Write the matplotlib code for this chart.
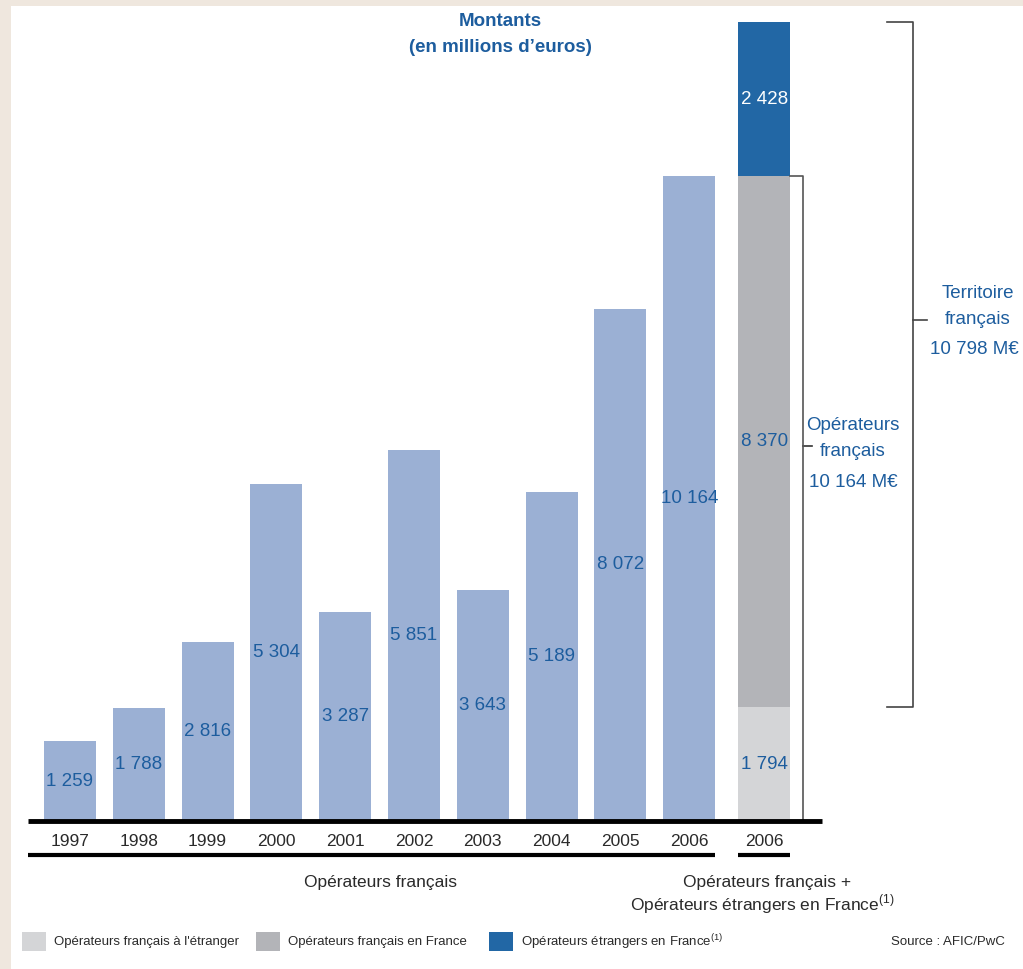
import matplotlib
matplotlib.use("Agg")
import matplotlib.pyplot as plt
from matplotlib.patches import Rectangle
import matplotlib.transforms as mtransforms
import numpy as np

# ---------------- data ----------------
years = ["1997", "1998", "1999", "2000", "2001", "2002", "2003", "2004", "2005", "2006"]
montants = [1259, 1788, 2816, 5304, 3287, 5851, 3643, 5189, 8072, 10164]
stack_year = "2006"
stack_labels = ["Opérateurs français à l'étranger", "Opérateurs français en France",
                "Opérateurs étrangers en France"]
stack_values = [1794, 8370, 2428]

# ---------------- style ----------------
FONT = ["Liberation Sans Narrow", "Liberation Sans", "DejaVu Sans"]
plt.rcParams["font.family"] = FONT
BLUE_TXT = "#1d5d9e"
BAR_BLUE = "#9bb0d4"
STACK_COLORS = ["#d4d5d7", "#b3b4b8", "#2267a5"]
STACK_TXT = [BLUE_TXT, BLUE_TXT, "white"]
DARK = "#2a2a2a"

W, H = 1023, 969
fig = plt.figure(figsize=(W / 100, H / 100), dpi=100)
fig.patch.set_facecolor("#efe7de")
fig.patches.append(Rectangle((11 / W, 0), 1 - 11 / W, 1 - 6 / H, transform=fig.transFigure,
                             facecolor="white", edgecolor="none", zorder=-5))

# axes: baseline at y=821 px, top at y=22 px ; x from 28 px to 822 px
ax_left, ax_right = 28, 822
ax_bottom, ax_top = 821, 22
ax = fig.add_axes([ax_left / W, 1 - ax_bottom / H, (ax_right - ax_left) / W, (ax_bottom - ax_top) / H])
ax.set_zorder(2)
ax.set_facecolor("none")
step = 68.8
x0 = 70
ax.set_xlim((ax_left - x0) / step, (ax_right - x0) / step)
total = sum(stack_values)
ax.set_ylim(0, total)
for s in ax.spines.values():
    s.set_visible(False)
ax.set_xticks([])
ax.set_yticks([])

xs = np.arange(len(years))
xstack = len(years) + 0.09
bw = 0.756

def fmt(v):
    return f"{v:,}".replace(",", " ")

ax.bar(xs, montants, width=bw, color=BAR_BLUE, edgecolor="none", zorder=2)
for x, v in zip(xs, montants):
    ax.text(x, v / 2, fmt(v), ha="center", va="center", color=BLUE_TXT, fontsize=13.5, zorder=3)

bottom = 0
for v, c, tc in zip(stack_values, STACK_COLORS, STACK_TXT):
    ax.bar(xstack, v, bottom=bottom, width=bw, color=c, edgecolor="none", zorder=2)
    ax.text(xstack, bottom + v / 2, fmt(v), ha="center", va="center", color=tc, fontsize=13.5, zorder=3)
    bottom += v

# baseline
ax.plot([(ax_left - x0) / step, (ax_right - x0) / step], [0, 0], color="black", lw=3.5,
        clip_on=False, zorder=4, solid_capstyle="butt")

trans = mtransforms.blended_transform_factory(ax.transData, fig.transFigure)
def fy(px):
    return 1 - px / H

for x, y in zip(xs, years):
    ax.text(x, fy(841), y, transform=trans, ha="center", va="center", fontsize=12.5, color=DARK)
ax.text(xstack, fy(841), stack_year, transform=trans, ha="center", va="center", fontsize=12.5, color=DARK)
ax.plot([(ax_left - x0) / step, xs[-1] + bw / 2], [fy(855), fy(855)], transform=trans,
        color="black", lw=3, clip_on=False, solid_capstyle="butt")
ax.plot([xstack - bw / 2, xstack + bw / 2], [fy(855), fy(855)], transform=trans,
        color="black", lw=3, clip_on=False, solid_capstyle="butt")

# group labels
fig.text(380 / W, fy(882), "Opérateurs français", ha="center", va="center", fontsize=12.5, color=DARK)
fig.text(767 / W, fy(882), "Opérateurs français +", ha="center", va="center", fontsize=12.5, color=DARK)
fig.text(762 / W, fy(904), "Opérateurs étrangers en France$^{\\mathregular{(1)}}$", ha="center", va="center",
         fontsize=12.5, color=DARK)

# title
fig.text(500 / W, fy(22), "Montants", ha="center", va="center", fontsize=13.5, color=BLUE_TXT, fontweight="bold")
fig.text(500 / W, fy(47), "(en millions d’euros)", ha="center", va="center", fontsize=13.5, color=BLUE_TXT,
         fontweight="bold")

# brackets
def px2x(px):
    return (px - x0) / step
fr_total = stack_values[0] + stack_values[1]
ax.plot([xstack + bw / 2, px2x(803), px2x(803)], [fr_total, fr_total, 0], color="#555555", lw=1.2,
        clip_on=False, zorder=3)
ax.plot([px2x(803), px2x(812)], [fy(446), fy(446)], transform=trans, color="#333333", lw=1.2, clip_on=False)
ax.text(px2x(853), fy(425), "Opérateurs", transform=trans, ha="center", va="center", fontsize=13.5, color=BLUE_TXT)
ax.text(px2x(853), fy(451), "français", transform=trans, ha="center", va="center", fontsize=13.5, color=BLUE_TXT)
ax.text(px2x(853), fy(482), "10 164 M€", transform=trans, ha="center", va="center", fontsize=13.5, color=BLUE_TXT)

terr_lo = stack_values[0]
ax.plot([px2x(887), px2x(913), px2x(913), px2x(887)], [total, total, terr_lo, terr_lo],
        color="#444444", lw=1.2, clip_on=False)
ax.plot([px2x(913), px2x(927)], [fy(320), fy(320)], transform=trans, color="#444444", lw=1.2, clip_on=False)
ax.text(px2x(978), fy(294), "Territoire", transform=trans, ha="center", va="center", fontsize=13.5, color=BLUE_TXT)
ax.text(px2x(978), fy(319), "français", transform=trans, ha="center", va="center", fontsize=13.5, color=BLUE_TXT)
ax.text(px2x(974), fy(350), "10 798 M€", transform=trans, ha="center", va="center", fontsize=13.5, color=BLUE_TXT)

# legend
leg_x = [22, 256, 489]
for lx, lab, c in zip(leg_x, stack_labels, STACK_COLORS):
    fig.patches.append(Rectangle((lx / W, fy(951)), 24 / W, 19 / H, transform=fig.transFigure,
                                 facecolor=c, edgecolor="none"))
    txt = lab + ("$^{\\mathregular{(1)}}$" if "étrangers" in lab else "")
    fig.text((lx + 32) / W, fy(942), txt, ha="left", va="center", fontsize=9.5, color=DARK)
fig.text(1005 / W, fy(942), "Source : AFIC/PwC", ha="right", va="center", fontsize=9.5, color=DARK)

fig.savefig("out.png", dpi=100, facecolor=fig.get_facecolor())
